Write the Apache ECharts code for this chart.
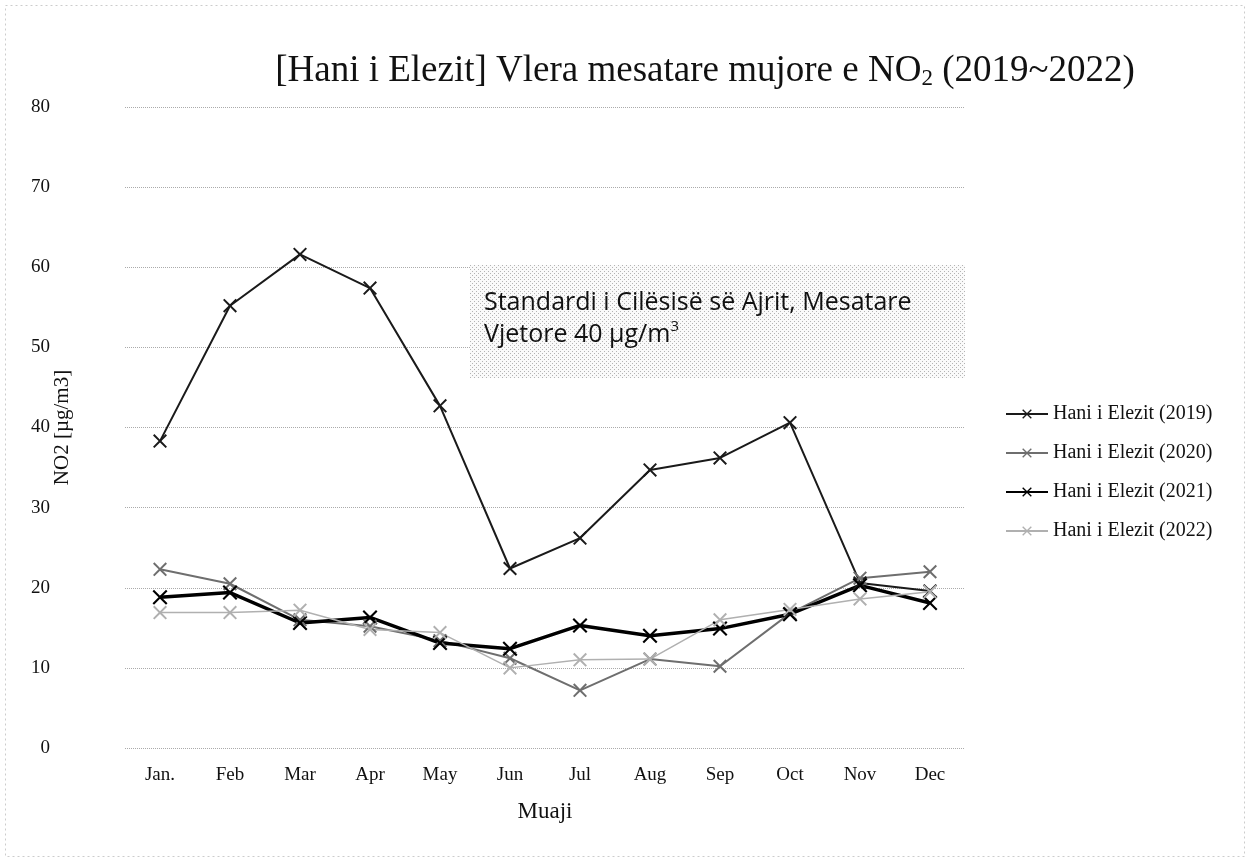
<!DOCTYPE html>
<html>
<head>
<meta charset="utf-8">
<script src="https://cdn.jsdelivr.net/npm/echarts@6/dist/echarts.min.js"></script>
<style>
  html, body { margin: 0; padding: 0; background: #fff; }
  #graph { width: 1245px; height: 857px; }
</style>
</head>
<body>
<div id="graph"></div>
<script>
// data
const months = ['Jan.', 'Feb', 'Mar', 'Apr', 'May', 'Jun', 'Jul', 'Aug', 'Sep', 'Oct', 'Nov', 'Dec']
const seriesNames = ['Hani i Elezit (2019)', 'Hani i Elezit (2020)', 'Hani i Elezit (2021)', 'Hani i Elezit (2022)']
const y2019 = [38.3, 55.2, 61.6, 57.4, 42.7, 22.4, 26.2, 34.7, 36.2, 40.6, 20.6, 19.6]
const y2020 = [22.3, 20.5, 16.0, 15.2, 13.4, 11.2, 7.2, 11.1, 10.2, 16.8, 21.2, 22.0]
const y2021 = [18.8, 19.4, 15.6, 16.3, 13.1, 12.4, 15.3, 14.0, 14.9, 16.7, 20.3, 18.1]
const y2022 = [16.9, 16.9, 17.2, 14.8, 14.4, 10.0, 11.0, 11.1, 16.0, 17.3, 18.6, 19.5]
const yTicks = [0, 80, 10] // min, max, interval
const noteLines = ['Standardi i Cilësisë së Ajrit, Mesatare', 'Vjetore 40 µg/m{sup|3}']

const serif = '"Liberation Serif", "DejaVu Serif", serif'
const crossPath = 'path://M0,1L1,0L5,4L9,0L10,1L6,5L10,9L9,10L5,6L1,10L0,9L4,5Z'

// stippled fill for the note box
function stipple() {
  const c = document.createElement('canvas')
  c.width = 4; c.height = 4
  const ctx = c.getContext('2d')
  ctx.fillStyle = '#fafafa'
  ctx.fillRect(0, 0, 4, 4)
  ctx.fillStyle = '#b4b4b4'
  ctx.fillRect(0, 0, 1, 1)
  ctx.fillRect(2, 2, 1, 1)
  return c
}

function makeSeries(name, data, color, width, size) {
  return {
    name: name,
    type: 'line',
    data: data,
    symbol: crossPath,
    symbolSize: size,
    itemStyle: { color: color },
    lineStyle: { color: color, width: width },
    emphasis: { disabled: true }
  }
}

let graph = echarts.init(document.getElementById('graph'))
const option = {
  backgroundColor: '#fff',
  animation: false,
  title: {
    text: '[Hani i Elezit] Vlera mesatare mujore e NO{sub|2} (2019~2022)',
    left: 700,
    textAlign: 'center',
    top: 48,
    textStyle: {
      fontFamily: serif,
      fontSize: 37,
      fontWeight: 'normal',
      color: '#111',
      rich: {
        sub: { fontFamily: serif, fontSize: 23, color: '#111', verticalAlign: 'bottom', padding: [14, 0, 0, 0] }
      }
    }
  },
  legend: {
    orient: 'vertical',
    left: 1000,
    top: 399,
    itemWidth: 42,
    itemHeight: 12,
    itemGap: 19,
    textStyle: { fontFamily: serif, fontSize: 20, color: '#111' },
    data: seriesNames
  },
  grid: { left: 125, right: 280, top: 107, bottom: 109 },
  xAxis: {
    type: 'category',
    data: months,
    name: 'Muaji',
    nameLocation: 'middle',
    nameGap: 52,
    nameTextStyle: { fontFamily: serif, fontSize: 23, color: '#111' },
    axisLine: { show: false },
    axisTick: { show: false },
    axisLabel: { fontFamily: serif, fontSize: 19, color: '#111', margin: 18 }
  },
  yAxis: {
    type: 'value',
    min: yTicks[0],
    max: yTicks[1],
    interval: yTicks[2],
    name: 'NO2 [µg/m3]',
    nameLocation: 'middle',
    nameGap: 52,
    nameMoveOverlap: false,
    nameTextStyle: { fontFamily: serif, fontSize: 21, color: '#111' },
    axisLine: { show: false },
    axisTick: { show: false },
    axisLabel: { fontFamily: serif, fontSize: 19, color: '#111', margin: 75 },
    splitLine: { lineStyle: { color: '#aaa', type: 'dotted', width: 1 } }
  },
  graphic: [
    {
      type: 'rect',
      left: 3, top: 3,
      shape: { width: 1239, height: 851 },
      style: { fill: 'none', stroke: '#ccc', lineWidth: 1, lineDash: [2, 3] },
      silent: true
    },
    {
      type: 'rect',
      left: 470, top: 265,
      shape: { width: 495, height: 113 },
      style: { fill: { image: stipple(), repeat: 'repeat' } },
      silent: true,
      z: 1
    },
    {
      type: 'text',
      left: 484, top: 287,
      style: {
        text: noteLines.join('\n'),
        fontFamily: '"Open Sans", "Noto Sans", sans-serif',
        fontSize: 25,
        fontWeight: 500,
        lineHeight: 32,
        fill: '#111',
        rich: {
          sup: { fontFamily: '"Open Sans", sans-serif', fontSize: 15, fontWeight: 500, fill: '#111', verticalAlign: 'top', padding: [0, 0, 14, 0] }
        }
      },
      silent: true,
      z: 2
    }
  ],
  series: [
    makeSeries(seriesNames[0], y2019, '#1a1a1a', 2, 14),
    makeSeries(seriesNames[1], y2020, '#6e6e6e', 2, 14),
    makeSeries(seriesNames[2], y2021, '#000', 3.5, 15),
    makeSeries(seriesNames[3], y2022, '#b0b0b0', 1.5, 14)
  ]
}
graph.setOption(option)
</script>
</body>
</html>
